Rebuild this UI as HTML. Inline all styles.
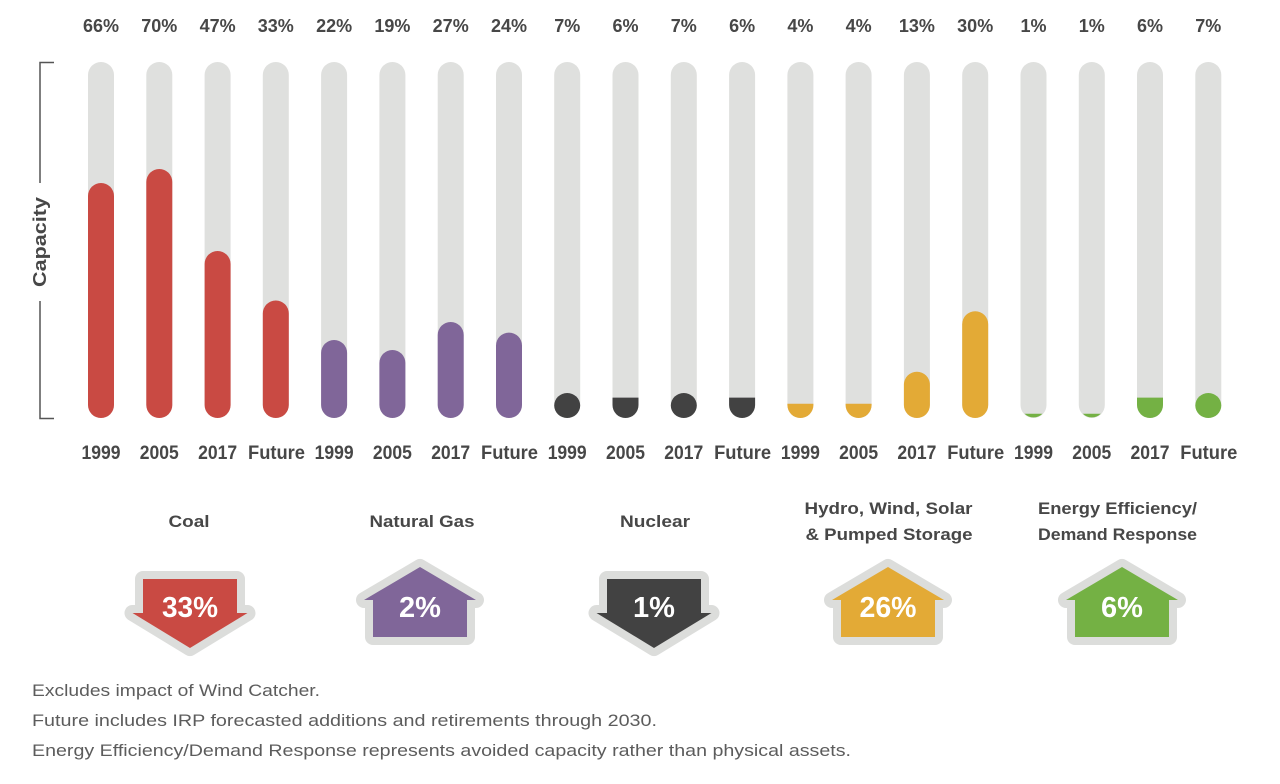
<!DOCTYPE html>
<html>
<head>
<meta charset="utf-8">
<style>
html,body{margin:0;padding:0;background:#fff;}
svg{display:block;}
text{font-family:"Liberation Sans",sans-serif;}
.pct{font-size:18px;font-weight:bold;fill:#474747;text-anchor:middle;}
.yr{font-size:19px;font-weight:bold;fill:#474747;text-anchor:middle;}
.cat{font-size:17px;font-weight:bold;fill:#474747;text-anchor:middle;}
.arr{font-size:29px;font-weight:bold;fill:#ffffff;text-anchor:middle;}
.note{font-size:17px;fill:#5c5c5c;}
.trk{fill:#dfe0de;}
.ao{stroke:#dcdddb;stroke-width:16;stroke-linejoin:round;paint-order:stroke;}
</style>
</head>
<body>
<svg width="1280" height="784" viewBox="0 0 1280 784" xmlns="http://www.w3.org/2000/svg">
<rect width="1280" height="784" fill="#fff"/>

<!-- top percentages -->
<text class="pct" x="101" y="32">66%</text>
<text class="pct" x="159.3" y="32">70%</text>
<text class="pct" x="217.6" y="32">47%</text>
<text class="pct" x="275.8" y="32">33%</text>
<text class="pct" x="334.1" y="32">22%</text>
<text class="pct" x="392.4" y="32">19%</text>
<text class="pct" x="450.7" y="32">27%</text>
<text class="pct" x="509" y="32">24%</text>
<text class="pct" x="567.2" y="32">7%</text>
<text class="pct" x="625.5" y="32">6%</text>
<text class="pct" x="683.8" y="32">7%</text>
<text class="pct" x="742.1" y="32">6%</text>
<text class="pct" x="800.4" y="32">4%</text>
<text class="pct" x="858.6" y="32">4%</text>
<text class="pct" x="916.9" y="32">13%</text>
<text class="pct" x="975.2" y="32">30%</text>
<text class="pct" x="1033.5" y="32">1%</text>
<text class="pct" x="1091.8" y="32">1%</text>
<text class="pct" x="1150" y="32">6%</text>
<text class="pct" x="1208.3" y="32">7%</text>

<!-- axis bracket -->
<g stroke="#555" stroke-width="1.5" fill="none">
<path d="M54,62.5 H40 V183"/>
<path d="M40,301 V418.5 H54"/>
</g>
<text transform="translate(46,242) rotate(-90)" text-anchor="middle" font-size="18" font-weight="bold" fill="#474747" textLength="90" lengthAdjust="spacingAndGlyphs">Capacity</text>

<!-- tracks -->
<g class="trk">
<rect x="88" y="62" width="26" height="356" rx="13"/>
<rect x="146.3" y="62" width="26" height="356" rx="13"/>
<rect x="204.6" y="62" width="26" height="356" rx="13"/>
<rect x="262.8" y="62" width="26" height="356" rx="13"/>
<rect x="321.1" y="62" width="26" height="356" rx="13"/>
<rect x="379.4" y="62" width="26" height="356" rx="13"/>
<rect x="437.7" y="62" width="26" height="356" rx="13"/>
<rect x="496" y="62" width="26" height="356" rx="13"/>
<rect x="554.2" y="62" width="26" height="356" rx="13"/>
<rect x="612.5" y="62" width="26" height="356" rx="13"/>
<rect x="670.8" y="62" width="26" height="356" rx="13"/>
<rect x="729.1" y="62" width="26" height="356" rx="13"/>
<rect x="787.4" y="62" width="26" height="356" rx="13"/>
<rect x="845.6" y="62" width="26" height="356" rx="13"/>
<rect x="903.9" y="62" width="26" height="356" rx="13"/>
<rect x="962.2" y="62" width="26" height="356" rx="13"/>
<rect x="1020.5" y="62" width="26" height="356" rx="13"/>
<rect x="1078.8" y="62" width="26" height="356" rx="13"/>
<rect x="1137" y="62" width="26" height="356" rx="13"/>
<rect x="1195.3" y="62" width="26" height="356" rx="13"/>
</g>

<!-- coal -->
<g fill="#c94a43">
<rect x="88" y="183" width="26" height="235" rx="13"/>
<rect x="146.3" y="169" width="26" height="249" rx="13"/>
<rect x="204.6" y="251" width="26" height="167" rx="13"/>
<rect x="262.8" y="300.5" width="26" height="117.5" rx="13"/>
</g>
<!-- gas -->
<g fill="#806699">
<rect x="321.1" y="340" width="26" height="78" rx="13"/>
<rect x="379.4" y="350" width="26" height="68" rx="13"/>
<rect x="437.7" y="322" width="26" height="96" rx="13"/>
<rect x="496" y="332.6" width="26" height="85.4" rx="13"/>
</g>
<!-- nuclear -->
<g fill="#424242">
<rect x="554.2" y="393" width="26" height="25" rx="13"/>
<path d="M612.5,397.6 H638.5 V405 A13,13 0 0 1 612.5,405 Z"/>
<rect x="670.8" y="393" width="26" height="25" rx="13"/>
<path d="M729.1,397.6 H755.1 V405 A13,13 0 0 1 729.1,405 Z"/>
</g>
<!-- hydro -->
<g fill="#e3aa36">
<path d="M787.4,403.8 H813.4 V405 A13,13 0 0 1 787.4,405 Z"/>
<path d="M845.6,403.8 H871.6 V405 A13,13 0 0 1 845.6,405 Z"/>
<rect x="903.9" y="371.7" width="26" height="46.3" rx="13"/>
<rect x="962.2" y="311.2" width="26" height="106.8" rx="13"/>
</g>
<!-- EE -->
<g fill="#74b144">
<path d="M1024.5,413.8 H1042.5 A13,13 0 0 1 1024.5,413.8 Z"/>
<path d="M1082.8,413.8 H1100.8 A13,13 0 0 1 1082.8,413.8 Z"/>
<path d="M1137,397.6 H1163 V405 A13,13 0 0 1 1137,405 Z"/>
<rect x="1195.3" y="393" width="26" height="25" rx="13"/>
</g>

<!-- year labels -->
<text class="yr" x="101" y="459" textLength="39" lengthAdjust="spacingAndGlyphs">1999</text>
<text class="yr" x="159.3" y="459" textLength="39" lengthAdjust="spacingAndGlyphs">2005</text>
<text class="yr" x="217.6" y="459" textLength="39" lengthAdjust="spacingAndGlyphs">2017</text>
<text class="yr" x="276.5" y="459" textLength="57" lengthAdjust="spacingAndGlyphs">Future</text>
<text class="yr" x="334.1" y="459" textLength="39" lengthAdjust="spacingAndGlyphs">1999</text>
<text class="yr" x="392.4" y="459" textLength="39" lengthAdjust="spacingAndGlyphs">2005</text>
<text class="yr" x="450.7" y="459" textLength="39" lengthAdjust="spacingAndGlyphs">2017</text>
<text class="yr" x="509.5" y="459" textLength="57" lengthAdjust="spacingAndGlyphs">Future</text>
<text class="yr" x="567.2" y="459" textLength="39" lengthAdjust="spacingAndGlyphs">1999</text>
<text class="yr" x="625.5" y="459" textLength="39" lengthAdjust="spacingAndGlyphs">2005</text>
<text class="yr" x="683.8" y="459" textLength="39" lengthAdjust="spacingAndGlyphs">2017</text>
<text class="yr" x="742.6" y="459" textLength="57" lengthAdjust="spacingAndGlyphs">Future</text>
<text class="yr" x="800.4" y="459" textLength="39" lengthAdjust="spacingAndGlyphs">1999</text>
<text class="yr" x="858.6" y="459" textLength="39" lengthAdjust="spacingAndGlyphs">2005</text>
<text class="yr" x="916.9" y="459" textLength="39" lengthAdjust="spacingAndGlyphs">2017</text>
<text class="yr" x="975.7" y="459" textLength="57" lengthAdjust="spacingAndGlyphs">Future</text>
<text class="yr" x="1033.5" y="459" textLength="39" lengthAdjust="spacingAndGlyphs">1999</text>
<text class="yr" x="1091.8" y="459" textLength="39" lengthAdjust="spacingAndGlyphs">2005</text>
<text class="yr" x="1150" y="459" textLength="39" lengthAdjust="spacingAndGlyphs">2017</text>
<text class="yr" x="1208.8" y="459" textLength="57" lengthAdjust="spacingAndGlyphs">Future</text>

<!-- category labels -->
<text class="cat" x="189" y="527" textLength="41" lengthAdjust="spacingAndGlyphs">Coal</text>
<text class="cat" x="422" y="527" textLength="105" lengthAdjust="spacingAndGlyphs">Natural Gas</text>
<text class="cat" x="655" y="527" textLength="70" lengthAdjust="spacingAndGlyphs">Nuclear</text>
<text class="cat" x="888.5" y="514" textLength="168" lengthAdjust="spacingAndGlyphs">Hydro, Wind, Solar</text>
<text class="cat" x="889" y="540" textLength="167" lengthAdjust="spacingAndGlyphs">&amp; Pumped Storage</text>
<text class="cat" x="1117.5" y="514" textLength="159" lengthAdjust="spacingAndGlyphs">Energy Efficiency/</text>
<text class="cat" x="1117.5" y="540" textLength="159" lengthAdjust="spacingAndGlyphs">Demand Response</text>

<!-- arrows -->
<path class="ao" fill="#c94a43" d="M143,579 H237 V613 H247.5 L190,648 L132.5,613 H143 Z"/>
<text class="arr" x="190" y="617" textLength="56" lengthAdjust="spacingAndGlyphs">33%</text>

<path class="ao" fill="#806699" d="M420,567 L476,600 H467 V637 H373 V600 H364 Z"/>
<text class="arr" x="420" y="617">2%</text>

<path class="ao" fill="#424242" d="M607,579 H701 V613 H711.5 L654,648 L596.5,613 H607 Z"/>
<text class="arr" x="654" y="617">1%</text>

<path class="ao" fill="#e3aa36" d="M888,567 L944,600 H935 V637 H841 V600 H832 Z"/>
<text class="arr" x="888" y="617" textLength="57" lengthAdjust="spacingAndGlyphs">26%</text>

<path class="ao" fill="#74b144" d="M1122,567 L1178,600 H1169 V637 H1075 V600 H1066 Z"/>
<text class="arr" x="1122" y="617">6%</text>

<!-- footnotes -->
<text class="note" x="32" y="696" textLength="288" lengthAdjust="spacingAndGlyphs">Excludes impact of Wind Catcher.</text>
<text class="note" x="32" y="726" textLength="625" lengthAdjust="spacingAndGlyphs">Future includes IRP forecasted additions and retirements through 2030.</text>
<text class="note" x="32" y="756" textLength="819" lengthAdjust="spacingAndGlyphs">Energy Efficiency/Demand Response represents avoided capacity rather than physical assets.</text>
</svg>
</body>
</html>
